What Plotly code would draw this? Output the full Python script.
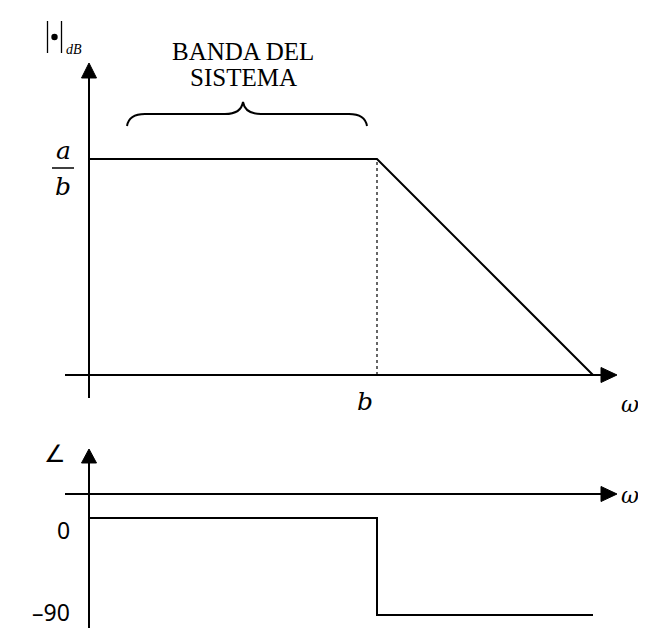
import plotly.graph_objects as go

# asymptotic Bode sketch (normalised units: b = 1, a/b level = 1)
b = 1.0
level = 1.0
omega_mag = [0, 1.0, 1.75]
mag = [1.0, 1.0, 0]
omega_phase = [0, 1.0, 1.0, 1.75]
phase = [0, 0, -90, -90]
phase_ticks = [0, -90]
phase_text = ["0", "–90"]

W, H = 646, 628

def px(x):
    return x / W

def py(y):
    return 1 - y / H

line = dict(color="black", width=2)

fig = go.Figure()
fig.add_trace(go.Scatter(x=omega_mag, y=mag, mode="lines", line=line, xaxis="x", yaxis="y"))
fig.add_trace(go.Scatter(x=[b, b], y=[0, level], mode="lines",
                         line=dict(color="black", width=1.2, dash="dot"), xaxis="x", yaxis="y"))
fig.add_trace(go.Scatter(x=omega_phase, y=phase, mode="lines", line=line, xaxis="x", yaxis="y2"))

shapes = []
def seg(x0, y0, x1, y1, w=2):
    shapes.append(dict(type="line", xref="paper", yref="paper", x0=px(x0), y0=py(y0),
                       x1=px(x1), y1=py(y1), line=dict(color="black", width=w)))

def tri(p):
    shapes.append(dict(type="path", xref="paper", yref="paper", fillcolor="black",
                       line=dict(color="black", width=1),
                       path="M %.5f,%.5f L %.5f,%.5f L %.5f,%.5f Z" % (
                           px(p[0]), py(p[1]), px(p[2]), py(p[3]), px(p[4]), py(p[5]))))

# magnitude axes
seg(81, 390, 81, 70)
tri([73.5, 70, 88.5, 70, 81, 55])
seg(57, 367, 593, 367)
tri([593, 359.5, 593, 374.5, 609, 367])
# phase axes
seg(81, 628, 81, 455)
tri([73.5, 455, 88.5, 455, 81, 441])
seg(57, 486, 593, 486)
tri([593, 478.5, 593, 493.5, 609, 486])
# fraction bar
seg(44, 160, 66, 160, 1.5)
# |.| bars
seg(39.5, 13, 39.5, 45, 1.3)
seg(53.5, 13, 53.5, 45, 1.3)
shapes.append(dict(type="circle", xref="paper", yref="paper", fillcolor="black",
                   line=dict(color="black", width=0),
                   x0=px(43.3), x1=px(49.7), y0=py(25.8), y1=py(32.2)))

# brace over the band
b_pts = [("M", [119, 118]), ("Q", [121, 106, 137, 106]), ("L", [217, 106]),
         ("Q", [233, 106, 235, 94]), ("Q", [237, 106, 253, 106]), ("L", [341, 106]),
         ("Q", [357, 106, 359, 118])]
brace = ""
for c, pts in b_pts:
    brace += c + " " + " ".join("%.5f,%.5f" % (px(pts[i]), py(pts[i + 1])) for i in range(0, len(pts), 2)) + " "
shapes.append(dict(type="path", xref="paper", yref="paper", path=brace.strip(),
                   line=dict(color="black", width=2)))

serif = "Liberation Serif"
math = "DejaVu Serif"
ann = []
def txt(x, y, t, size, family, xa="center"):
    ann.append(dict(x=px(x), y=py(y), xref="paper", yref="paper", text=t, showarrow=False,
                    xanchor=xa, yanchor="middle", font=dict(size=size, family=family, color="black")))

txt(235, 43, "BANDA DEL", 25, serif)
txt(235, 70, "SISTEMA", 25, serif)
txt(56, 41, "<i>dB</i>", 14, serif, xa="left")
txt(55, 142, "<i>a</i>", 25, math)
txt(55, 178, "<i>b</i>", 25, math)
txt(622, 396, "<i>ω</i>", 22, math)
txt(622, 487, "<i>ω</i>", 22, math)
txt(47, 446, "∠", 24, "DejaVu Sans")

# b tick on the magnitude plot, phase labels on the phase plot
ann.append(dict(x=b, y=0, xref="x", yref="y", text="<i>b</i>", showarrow=False,
                yanchor="middle", yshift=-26, xshift=-12,
                font=dict(size=25, family=math, color="black")))
for v, t, sh in zip(phase_ticks, phase_text, [-12, 3]):
    ann.append(dict(x=0, y=v, xref="x", yref="y2", text=t, showarrow=False,
                    xanchor="right", yanchor="middle", xshift=-17, yshift=sh,
                    font=dict(size=23, family="Noto Sans", color="black")))

split = 1 - 420 / H
fig.update_layout(
    width=W, height=H, margin=dict(l=0, r=0, t=0, b=0),
    paper_bgcolor="white", plot_bgcolor="white", showlegend=False,
    xaxis=dict(range=[-81 / 288, 565 / 288], visible=False, domain=[0, 1]),
    yaxis=dict(range=[(367 - 420) / 216, 367 / 216], visible=False, domain=[split, 1]),
    yaxis2=dict(range=[(510 - 628) * 90 / 97, (510 - 420) * 90 / 97], visible=False,
                domain=[0, split], anchor="x"),
    shapes=shapes, annotations=ann,
)
fig.write_html("out.html")
